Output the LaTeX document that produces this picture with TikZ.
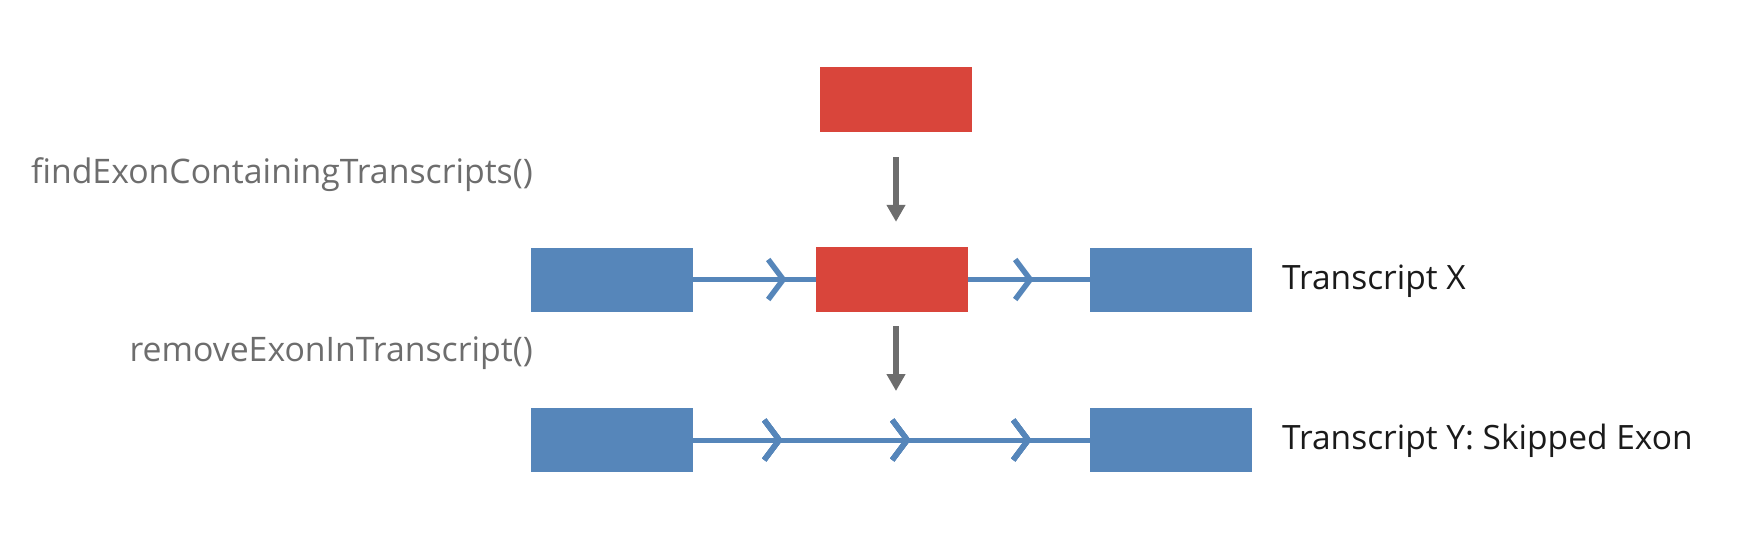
\documentclass[tikz,border=0pt]{standalone}
\usepackage{fontspec}
\setmainfont{Open Sans}
\usetikzlibrary{arrows.meta,decorations.markings}
\definecolor{exred}{HTML}{D9453B}
\definecolor{exblue}{HTML}{5686BA}
\definecolor{exgray}{HTML}{6D6D6D}
\definecolor{extext}{HTML}{1A1A1A}
\tikzset{
  redexon/.style={fill=exred,draw=none,minimum width=152pt,minimum height=65pt,inner sep=0pt},
  blueexon/.style={fill=exblue,draw=none,minimum width=162pt,minimum height=64pt,inner sep=0pt},
  intron/.style={draw=exblue,line width=5pt},
  chev/.style={decoration={markings,mark=at position #1 with {\draw[exblue,line width=5.5pt,line cap=butt,line join=miter] (-15pt,20pt)--(0,0)--(-15pt,-20pt);}},postaction={decorate}},
  flowarrow/.style={draw=exgray,line width=6.5pt,-{Triangle[width=18pt,length=17pt]}},
  fnlabel/.style={text=exgray,font=\fontsize{33.8}{36}\selectfont,inner sep=0pt,anchor=base east},
  trlabel/.style={text=extext,font=\fontsize{33.5}{36}\selectfont,inner sep=0pt,anchor=base west}
}
\begin{document}
\begin{tikzpicture}[x=1pt,y=-1pt]
\useasboundingbox (0,0) rectangle (1750,558);
\node[redexon] (top) at (896,99.5) {};
\node[blueexon] (l1) at (612,279.5) {};
\node[redexon] (m1) at (892,279.5) {};
\node[blueexon] (r1) at (1171,279.5) {};
\node[blueexon] (l2) at (612,440) {};
\node[blueexon] (r2) at (1171,440) {};
\coordinate (tgt2) at (896,408);
\draw[intron,chev=90pt] (l1.east) -- (m1.west);
\draw[intron,chev=62pt] (m1.east) -- (r1.west);
\draw[intron,chev=86pt,chev=214pt,chev=335pt] (l2.east) -- (r2.west);
\draw[flowarrow,shorten <=25pt,shorten >=25pt] (top.south) -- (top.south |- m1.north);
\draw[flowarrow,shorten <=14pt,shorten >=17pt] (top.south |- m1.south) -- (tgt2);
\node[fnlabel] (f1) at (533,183) {findExonContainingTranscripts()};
\node[fnlabel] (f2) at (533,361) {removeExonInTranscript()};
\node[trlabel] (t1) at (1282,289) {Transcript X};
\node[trlabel] (t2) at (1282,449) {Transcript Y: Skipped Exon};
\end{tikzpicture}
\end{document}
